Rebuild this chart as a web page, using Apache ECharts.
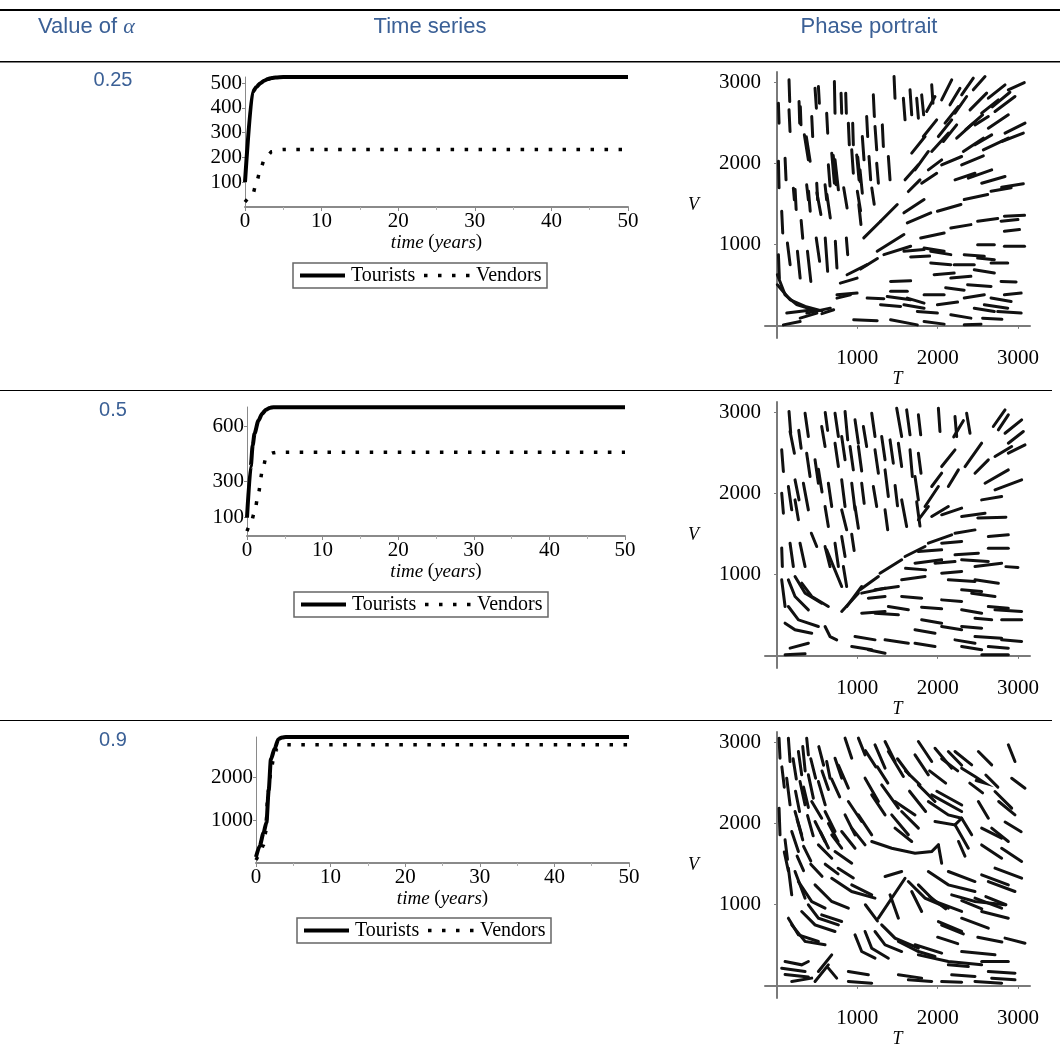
<!DOCTYPE html>
<html><head><meta charset="utf-8">
<script src="https://cdn.jsdelivr.net/npm/echarts@6/dist/echarts.min.js"></script>
<style>html,body{margin:0;padding:0;background:#fff}#c{width:1060px;height:1049px}</style>
</head><body><div id="c"></div>
<script>
// ---------- text ----------
const headerTexts = ['Value of ', 'α', 'Time series', 'Phase portrait'];
const alphaLabels = ['0.25', '0.5', '0.9'];
const seriesNames = ['Tourists', 'Vendors'];
const timeAxisWords = ['time', 'years'];
const phaseAxisNames = ['T', 'V'];

// ---------- time series (t in years) ----------
const t1 = [0, 1, 1.5, 2, 2.5, 3, 3.5, 4, 5, 50];
const tourists1 = [100, 465, 485, 500, 510, 517, 521, 523, 525, 525];
const tv1 = [0, 1, 1.5, 2, 2.5, 3, 3.5, 4, 5, 50];
const vendors1 = [20, 50, 100, 150, 190, 210, 224, 229, 232, 232];

const t2 = [0, 0.5, 0.75, 1, 1.5, 2, 2.5, 3, 3.5, 50];
const tourists2 = [100, 380, 496, 560, 630, 668, 690, 700, 704, 704];
const tv2 = [0, 0.5, 1, 1.5, 2, 2.5, 3, 3.5, 4, 50];
const vendors2 = [27, 70, 130, 230, 350, 425, 448, 455, 458, 458];

const t3 = [0, 0.5, 1, 1.4, 1.7, 2, 2.5, 3, 3.5, 4, 50];
const tourists3 = [140, 400, 700, 950, 1700, 2430, 2680, 2900, 2940, 2950, 2950];
const tv3 = [0, 0.5, 1, 1.3, 1.6, 2, 2.3, 2.8, 3.5, 4, 50];
const vendors3 = [70, 200, 420, 720, 1650, 2120, 2400, 2670, 2740, 2767, 2767];

const yMax = [525, 705, 2950];
const yTicks = [[100, 200, 300, 400, 500], [100, 300, 600], [1000, 2000]];
const phaseTicks = [1000, 2000, 3000];

// ---------- phase portraits: short trajectory strokes, [T, V] points ----------
const phase1 = [
 [[149,3033],[158,2766]],[[17,2745],[25,2499]],[[149,2663],[162,2396]],[[274,2766],[282,2499]],
 [[432,2581],[444,2334]],[[473,2930],[490,2684]],[[515,2951],[527,2745]],[[714,3013],[722,2622]],
 [[797,2869],[805,2622]],[[855,2869],[863,2622]],[[618,2622],[631,2376]],[[340,2355],[390,2047]],
 [[639,1986],[660,1723]],[[681,2129],[714,1759]],[[722,2047],[764,1677]],[[888,2499],[900,2232]],
 [[942,2499],[950,2232]],[[1116,2581],[1129,2334]],[[1199,2848],[1212,2581]],[[1311,2478],[1324,2211]],
 [[1457,3074],[1469,2807]],[[1573,2807],[1594,2540]],[[1656,2910],[1677,2602]],[[930,2170],[950,1882]],
 [[1062,2334],[1083,2047]],[[1220,2458],[1241,2170]],[[992,2108],[1021,1800]],[[1033,1923],[1062,1636]],
 [[1145,2088],[1166,1800]],[[1241,2006],[1262,1759]],[[1386,2088],[1407,1800]],[[100,2067],[112,1800]],
 [[203,1697],[216,1554]],[[369,1739],[390,1554]],[[494,1759],[506,1554]],[[598,1739],[618,1554]],
 [[1801,2848],[1826,2602]],[[1739,2807],[1760,2561]],[[1926,2972],[1942,2745]],[[17,2031],[25,1702]],
 [[1000,1660],[1040,1420]],[[1180,1700],[1210,1500]],[[365,2330],[412,2030]],[[700,2100],[735,1740]],
 [[1005,2080],[1035,1780]],[[290,2700],[298,2480]],
 // strokes fanning out to the upper right
 [[2050,2787],[2175,3033]],[[2154,2725],[2278,2930]],[[2299,2848],[2444,3054]],[[2444,2910],[2590,3074]],
 [[2216,2622],[2361,2828]],[[2092,2499],[2258,2704]],[[2009,2334],[2175,2540]],[[2403,2663],[2610,2869]],
 [[2631,2807],[2839,2972]],[[2880,2910],[3079,3000]],[[2548,2622],[2756,2787]],[[2714,2643],[2963,2828]],
 [[2631,2437],[2880,2602]],[[2839,2376],[3088,2499]],[[1677,2129],[1843,2334]],[[1718,1923],[1884,2150]],
 [[1822,2334],[1988,2540]],[[1926,2150],[2133,2376]],[[2071,2273],[2237,2478]],[[2237,2314],[2444,2499]],
 [[2320,2150],[2569,2314]],[[2465,2232],[2673,2355]],[[2569,2170],[2880,2314]],[[2797,2273],[3067,2376]],
 [[2050,1985],[2299,2088]],[[2299,1985],[2569,2096]],[[2382,1821],[2673,1923]],[[2548,1759],[2839,1841]],
 [[2797,1710],[3067,1751]],[[2216,1800],[2465,1882]],[[1594,1800],[1760,1985]],[[1635,1656],[1780,1800]],
 [[1884,1923],[2050,2047]],[[1801,1759],[1988,1882]],[[2465,2478],[2631,2581]],[[1863,2643],[1967,2828]],
 [[1289,1290],[1497,1496]],[[1080,1084],[1289,1290]],[[1580,1393],[1831,1557]],[[1247,919],[1580,1125]],
 [[1622,1269],[1914,1393]],[[1997,1413],[2290,1496]],[[2331,1557],[2623,1619]],[[2665,1660],[2915,1702]],
 [[872,630],[1122,754]],[[1330,878],[1664,981]],[[1789,1084],[2081,1145]],[[2164,1207],[2414,1248]],
 [[2498,1290],[2748,1323]],[[2831,1351],[3082,1364]],[[788,527],[997,589]],[[1040,700],[1250,830]],
 [[2350,2420],[2560,2600]],[[2680,2700],[2900,2880]],
 // near-vertical strokes, lower left
 [[58,1413],[71,1145]],[[17,878],[29,589]],[[129,1022],[163,754]],[[254,919],[288,589]],
 [[379,919],[421,548]],[[488,1084],[530,795]],[[600,1084],[630,672]],[[726,1042],[746,713]],
 [[863,1084],[880,878]],[[1018,1496],[1045,1250]],[[225,1681],[238,1434]],[[392,1660],[413,1413]],
 [[496,1640],[546,1372]],[[621,1619],[663,1331]],[[830,1702],[872,1454]],[[300,1300],[320,1080]],
 // nearly horizontal strokes, lower right
 [[746,383],[997,404]],[[1122,342],[1330,334]],[[1289,260],[1539,239]],[[1414,548],[1664,556]],
 [[1622,342],[1831,280]],[[1831,383],[2081,383]],[[1997,260],[2248,293]],[[2164,136],[2414,95]],
 [[955,74],[1247,62]],[[1414,74],[1747,12]],[[1831,54],[2081,21]],[[2331,342],[2581,383]],
 [[2456,218],[2706,177]],[[2665,342],[2915,301]],[[2748,177],[3040,157]],[[2831,383],[3040,404]],
 [[2164,589],[2414,610]],[[2456,692],[2706,651]],[[2790,548],[2977,540]],[[2331,878],[2581,857]],
 [[2498,836],[2706,816]],[[2206,754],[2456,754]],[[2665,775],[2873,775]],[[2831,981],[3082,981]],
 [[2831,1166],[3019,1187]],[[2790,1290],[3000,1310]],[[1831,960],[2081,919]],[[1580,919],[1831,940]],
 [[1914,775],[2164,754]],[[1414,425],[1622,425]],[[1747,177],[1997,157]],[[2331,12],[2540,21]],
 [[1372,363],[1664,321]],[[1580,260],[1831,218]],[[2581,260],[2873,218]],[[2373,507],[2665,486]],
 [[1956,630],[2206,651]],[[1914,919],[2164,878]],[[2498,1001],[2706,1001]],[[1664,850],[1900,860]],
 [[2560,95],[2800,80]],[[2100,470],[2330,440]],
 // curves near the origin
 [[4,630],[100,383],[246,260],[454,198]],[[4,507],[163,321],[350,239],[559,185]],
 [[121,157],[454,198]],[[371,157],[663,218]],[[79,12],[288,54]],[[288,95],[496,157]],
 [[559,150],[705,198]],[[746,342],[913,383]]
];

const phase2 = [
 [[149,3013],[170,2745]],[[162,2766],[216,2499]],[[349,2992],[390,2704]],[[556,2828],[598,2581]],
 [[722,2992],[764,2704]],[[847,3013],[880,2663]],[[971,2910],[1013,2622]],[[1075,2828],[1116,2581]],
 [[1179,2992],[1220,2704]],[[1490,3054],[1552,2704]],[[1614,3033],[1656,2725]],[[1760,2972],[1789,2725]],
 [[2009,3054],[2029,2766]],[[2216,2951],[2237,2704]],[[2361,2992],[2403,2745]],[[58,2540],[79,2273]],
 [[141,2088],[183,1800]],[[224,2170],[274,1923]],[[369,2499],[411,2211]],[[473,2417],[515,2129]],
 [[722,2622],[764,2334]],[[805,2704],[847,2417]],[[909,2581],[950,2293]],[[1013,2581],[1054,2280]],
 [[1220,2540],[1262,2252]],[[1303,2704],[1345,2417]],[[1407,2663],[1448,2376]],[[1511,2622],[1552,2334]],
 [[1656,2540],[1685,2211]],[[1760,2499],[1793,2252]],[[328,2129],[390,1800]],[[515,2300],[560,2020]],
 [[639,2129],[681,1841]],[[805,2170],[847,1841]],[[930,2129],[971,1800]],[[1054,2129],[1085,1880]],
 [[1199,2088],[1241,1841]],[[1345,2293],[1386,1965]],[[598,1841],[639,1595]],[[805,1800],[867,1554]],
 [[971,1841],[1013,1574]],[[1345,1800],[1378,1554]],[[224,1923],[266,1677]],[[58,2006],[79,1759]],
 [[1718,2211],[1760,1923]],[[1739,1900],[1780,1600]],[[1552,1923],[1614,1595]],[[1470,2100],[1500,1850]],
 [[600,3000],[630,2780]],[[270,2780],[300,2560]],
 // fanning to the upper right
 [[2693,2828],[2839,3033]],[[2756,2787],[2880,2972]],[[2839,2745],[3046,2910]],[[2880,2622],[3067,2766]],
 [[2714,2458],[2922,2581]],[[2880,2499],[3088,2602]],[[2341,2334],[2548,2622]],[[2465,2252],[2631,2417]],
 [[2590,2129],[2880,2293]],[[2714,2047],[3046,2170]],[[2548,1923],[2797,1965]],[[2050,2334],[2216,2540]],
 [[2133,2088],[2258,2293]],[[1926,2088],[2050,2252]],[[1843,1841],[2009,2088]],[[1760,1677],[1884,1841]],
 [[1926,1718],[2133,1841]],[[2050,1739],[2299,1821]],[[2299,1718],[2590,1759]],[[2500,1700],[2850,1710]],
 [[2200,2700],[2320,2900]],
 // left of the node
 [[58,1331],[66,1101]],[[162,1389],[203,1101]],[[286,1389],[349,1101]],[[427,1512],[494,1348]],
 [[598,1348],[660,1101]],[[722,1389],[764,1101]],[[805,1471],[847,1225]],[[618,1307],[805,855]],
 [[826,1101],[867,855]],[[930,1500],[960,1300]],
 [[58,937],[100,608]],[[141,937],[224,732],[390,567]],[[224,978],[349,773],[556,649]],
 [[307,896],[432,732],[639,608]],[[141,608],[266,444],[515,362]],[[100,403],[224,321],[432,279]],
 [[598,362],[660,238],[743,197]],[[162,95],[390,156]],[[100,12],[349,25]],
 // long arc from the node
 [[805,547],[1013,773]],[[1033,814],[1262,978]],[[1282,1019],[1552,1184]],[[1594,1225],[1843,1348]],
 [[1884,1389],[2175,1492]],[[2216,1512],[2465,1553]],[[867,608],[1054,855]],
 // nearly horizontal strokes
 [[1054,773],[1345,834]],[[1137,711],[1345,732]],[[1220,814],[1511,855]],[[1552,937],[1843,978]],
 [[1718,1143],[2050,1184]],[[1967,1143],[2216,1163]],[[1760,1286],[2050,1307]],[[2050,1389],[2299,1410]],
 [[2216,1245],[2507,1266]],[[2299,1184],[2631,1163]],[[2465,1101],[2797,1143]],[[2631,1471],[2880,1492]],
 [[2631,1328],[2880,1328]],[[2050,1019],[2299,1040]],[[2133,937],[2465,917]],[[2465,937],[2756,896]],
 [[2299,814],[2548,793]],[[2424,773],[2714,732]],[[2050,690],[2299,670]],[[1552,732],[1801,711]],
 [[2631,608],[2880,588]],[[2714,567],[3046,547]],[[2797,444],[3046,444]],[[2465,464],[2673,444]],
 [[2299,362],[2548,341]],[[2465,238],[2797,218]],[[2050,362],[2299,321]],[[1801,444],[2050,403]],
 [[1718,321],[1967,279]],[[1220,526],[1511,506]],[[1054,526],[1345,547]],[[1386,608],[1635,567]],
 [[971,238],[1220,197]],[[1345,197],[1635,156]],[[930,115],[1179,74]],[[1137,74],[1345,33]],
 [[1718,156],[1967,115]],[[2216,197],[2465,156]],[[2299,115],[2548,74]],[[2631,115],[2880,95]],
 [[2797,197],[3046,177]],[[2299,567],[2548,526]],[[2550,12],[2880,12]],[[1800,600],[2050,580]],
 [[2850,1100],[3000,1090]],[[1600,1080],[1850,1060]]
];

const phase3 = [
 // upper part
 [[25,3054],[37,2807]],[[25,2191],[37,1862]],[[141,3054],[162,2766]],[[266,2889],[307,2602]],
 [[320,2950],[350,2650]],[[369,3054],[390,2848]],[[120,2561],[162,2232]],[[286,2519],[349,2232]],
 [[390,2602],[452,2314]],[[515,2519],[600,2232]],[[618,2766],[660,2561]],[[722,2807],[805,2561]],
 [[765,2720],[888,2437]],[[847,3054],[930,2807]],[[1013,3054],[1096,2848]],[[1220,2972],[1345,2684]],
 [[1345,3013],[1469,2766]],[[1386,2889],[1573,2581]],[[1760,3013],[1926,2766]],[[1718,2848],[1884,2602]],
 [[1967,2930],[2175,2684]],[[2133,2889],[2299,2720]],[[2216,2889],[2424,2725]],
 [[2299,2684],[2465,2581],[2590,2499],[2480,2530]],[[2507,2889],[2673,2725]],[[2880,2972],[2963,2766]],
 [[2922,2560],[3088,2437]],[[2714,2396],[2922,2191]],[[2760,2273],[2963,2108]],[[2507,2273],[2631,2067]],
 [[2548,1944],[2797,1821]],[[2299,2067],[2424,1862]],[[1926,2355],[2299,2150]],[[1990,2400],[2300,2230]],
 [[1760,2478],[1967,2273]],[[1650,2400],[1850,2150]],
 [[1884,2273],[2133,2108],[2299,2067]],[[1967,2026],[2216,1985],[2299,2067]],
 [[1469,2273],[1718,2108]],[[1552,2150],[1760,1944]],[[1428,2108],[1635,1862]],[[1469,1944],[1677,1780]],
 [[1303,2478],[1511,2191]],[[1096,2561],[1262,2273]],[[1179,2355],[1345,2108]],[[888,2273],[1054,2026]],
 [[847,2108],[971,1862]],[[930,1944],[1096,1738]],[[1013,2108],[1179,1862]],
 [[1179,1780],[1428,1697],[1718,1636],[1926,1656],[2009,1738]],[[2009,1738],[2050,1512]],
 [[681,1862],[805,1697]],[[598,2150],[722,1903]],[[473,2026],[598,1780]],[[432,2273],[556,2067]],
 [[224,2150],[307,1862]],[[183,1903],[266,1656]],[[515,1738],[681,1574]],[[722,1656],[930,1512]],
 [[805,1903],[971,1697]],[[2216,1985],[2382,1697]],[[2260,1780],[2340,1600]],
 [[2548,1738],[2797,1574]],[[2673,1944],[2880,1780]],[[2797,1697],[3046,1533]],[[2840,2020],[3040,1900]],
 [[100,1800],[130,1560]],[[330,1720],[420,1540]],
 [[60,2700],[90,2450]],[[200,2800],[240,2550]],[[230,2400],[280,2150]],[[330,2450],[390,2200]],
 [[420,2800],[480,2560]],[[520,2950],[580,2720]],[[560,2650],[640,2420]],[[680,2550],[780,2330]],
 [[250,2050],[320,1800]],[[380,2100],[450,1850]],[[540,1900],[640,1700]],[[640,2000],[760,1780]],
 [[90,1650],[140,1420]],[[250,1600],[330,1420]],[[420,1500],[560,1350]],[[600,1500],[760,1380]],
 [[760,1450],[950,1330]],[[1100,2900],[1230,2700]],[[1250,2700],[1380,2500]],[[1500,2800],[1650,2600]],
 [[1600,2650],[1780,2480]],[[1900,2650],[2100,2500]],[[2050,2800],[2250,2650]],[[2400,2500],[2560,2380]],
 [[2600,2600],[2750,2450]],
 // lower part
 [[141,1451],[183,1122]],[[224,1410],[349,1081]],[[266,1286],[432,1040],[598,958]],
 [[473,1245],[681,1040],[888,958]],[[681,1327],[930,1163],[1220,1081]],[[930,1245],[1179,1122]],
 [[390,999],[515,834],[764,752]],[[556,875],[805,793]],[[141,834],[266,629],[515,547]],
 [[183,752],[349,547],[598,506]],[[307,917],[473,752],[722,670]],
 [[1345,1348],[1552,1410]],[[1594,1327],[1262,834]],[[1407,1122],[1511,834]],
 [[1635,1286],[1843,1081],[2133,958]],[[1677,1163],[1801,917]],[[1760,1245],[1967,1040],[2299,917]],
 [[1884,1410],[2133,1245],[2465,1163]],[[2133,1410],[2465,1286]],[[2175,1122],[2465,1040],[2839,999]],
 [[2548,1368],[2880,1245]],[[2631,1286],[2963,1163]],[[2714,1451],[3046,1327]],[[2465,1081],[2797,958]],
 [[2548,917],[2880,834]],[[2009,793],[2299,670]],[[2050,750],[2320,640]],[[2299,834],[2631,711]],
 [[2839,588],[3088,526]],
 [[971,629],[1054,423],[1220,341]],[[1096,670],[1179,464],[1386,341]],[[1220,670],[1345,506],[1552,423]],
 [[1303,752],[1469,588],[1760,464]],[[1511,547],[1760,423],[1967,362]],[[1718,506],[2050,403]],
 [[1760,382],[2133,300],[2548,259]],[[2299,423],[2714,382]],[[2548,300],[2880,300]],[[2133,259],[2382,238]],
 [[2631,177],[2963,156]],[[1100,1000],[1250,800]],[[1900,1100],[2100,950]],[[2300,1050],[2550,950]],
 [[2600,1100],[2850,1000]],[[2000,600],[2250,520]],[[2500,600],[2800,540]],
 [[100,300],[307,259],[390,300]],[[58,218],[349,177]],[[100,140],[390,110]],[[183,54],[432,95]],
 [[515,177],[681,382]],[[473,54],[639,259]],[[639,218],[743,95]],[[888,177],[1137,136]],
 [[888,54],[1179,33]],[[1511,136],[1801,95]],[[1635,74],[1926,54]],[[2175,136],[2465,115]],
 [[2465,54],[2797,33]],[[2673,95],[2963,74]],[[2050,54],[2299,45]]
];
const phaseData = [phase1, phase2, phase3];

// ---------- layout ----------
const tsGrids = [
  {left: 245, top: 77, width: 383, height: 130},
  {left: 247, top: 407, width: 378, height: 129},
  {left: 256, top: 737, width: 373, height: 126}
];
const phGrids = [
  {left: 765, top: 72, width: 265, height: 266},
  {left: 765, top: 402, width: 265, height: 266},
  {left: 765, top: 732, width: 265, height: 266}
];
const legendPos = [[293, 263], [294, 592], [297, 918]];
const rowLabelY = [80, 410, 740];
const tsData = [
  [t1, tourists1, tv1, vendors1],
  [t2, tourists2, tv2, vendors2],
  [t3, tourists3, tv3, vendors3]
];

const serif = '"Liberation Serif", "Times New Roman", serif';
const sans = '"Liberation Sans", Arial, sans-serif';
const blue = '#3B6096';
const axisGray = '#8a8a8a';
const plain = v => String(v);

const grids = [], xAxes = [], yAxes = [], series = [];
for (let r = 0; r < 3; r++) {
  grids.push(Object.assign({containLabel: false}, tsGrids[r]));
  xAxes.push({
    gridIndex: 2 * r, type: 'value', min: 0, max: 50, interval: 10,
    axisLine: {show: true, onZero: false, lineStyle: {color: axisGray, width: 2}},
    axisTick: {show: true, length: 4, lineStyle: {color: axisGray}},
    minorTick: {show: true, splitNumber: 2, length: 3, lineStyle: {color: '#b0b0b0'}},
    splitLine: {show: false},
    axisLabel: {fontFamily: serif, fontSize: 21, color: '#000', margin: 4, formatter: plain},
    name: '{i|' + timeAxisWords[0] + '} ({i|' + timeAxisWords[1] + '})',
    nameLocation: 'middle', nameGap: 26,
    nameTextStyle: {fontFamily: serif, fontSize: 19, color: '#000',
      rich: {i: {fontFamily: serif, fontSize: 19, fontStyle: 'italic', color: '#000'}}}
  });
  yAxes.push({
    gridIndex: 2 * r, type: 'value', min: 0, max: yMax[r],
    axisLine: {show: true, onZero: false, lineStyle: {color: axisGray, width: 1}},
    axisTick: {show: true, length: 3, customValues: yTicks[r], lineStyle: {color: axisGray}},
    splitLine: {show: false},
    axisLabel: {customValues: yTicks[r], fontFamily: serif, fontSize: 21, color: '#000', margin: 3, formatter: plain}
  });
  const d = tsData[r];
  series.push({
    name: seriesNames[0], type: 'line', xAxisIndex: 2 * r, yAxisIndex: 2 * r,
    data: d[0].map((t, i) => [t, d[1][i]]), showSymbol: false, symbol: 'none',
    smooth: 0.25, smoothMonotone: 'x',
    lineStyle: {color: '#000', width: 4}, silent: true, z: 3
  });
  series.push({
    name: seriesNames[1], type: 'line', xAxisIndex: 2 * r, yAxisIndex: 2 * r,
    data: d[2].map((t, i) => [t, d[3][i]]), showSymbol: false, symbol: 'none',
    smooth: 0.25, smoothMonotone: 'x',
    lineStyle: {color: '#000', width: 3.5, type: [3.5, 10.5], cap: 'butt'}, silent: true, z: 3
  });

  grids.push(Object.assign({containLabel: false}, phGrids[r]));
  xAxes.push({
    gridIndex: 2 * r + 1, type: 'value', min: -150, max: 3150,
    axisLine: {show: true, onZero: true, lineStyle: {color: '#7a7a7a', width: 2}},
    axisTick: {show: true, length: 3, customValues: phaseTicks, lineStyle: {color: '#7a7a7a'}},
    splitLine: {show: false},
    axisLabel: {customValues: phaseTicks, fontFamily: serif, fontSize: 21, color: '#000', margin: 10, formatter: plain},
    name: phaseAxisNames[0], nameLocation: 'middle', nameGap: 32,
    nameTextStyle: {fontFamily: serif, fontSize: 18, fontStyle: 'italic', color: '#000'}
  });
  yAxes.push({
    gridIndex: 2 * r + 1, type: 'value', min: -150, max: 3130,
    axisLine: {show: true, onZero: true, lineStyle: {color: '#7a7a7a', width: 2}},
    axisTick: {show: true, length: 3, customValues: phaseTicks, lineStyle: {color: '#7a7a7a'}},
    splitLine: {show: false},
    axisLabel: {customValues: phaseTicks, fontFamily: serif, fontSize: 21, color: '#000', margin: 4, formatter: plain},
    name: phaseAxisNames[1], nameLocation: 'middle', nameGap: 66, nameRotate: 0,
    nameTextStyle: {fontFamily: serif, fontSize: 18, fontStyle: 'italic', color: '#000'}
  });
  series.push({
    type: 'lines', coordinateSystem: 'cartesian2d', xAxisIndex: 2 * r + 1, yAxisIndex: 2 * r + 1,
    polyline: true, silent: true, z: 3,
    lineStyle: {color: '#111', width: 3, opacity: 1, cap: 'round'},
    data: phaseData[r].map(c => ({coords: c}))
  });
}

// ---------- decorations (table rules, headers, legends) ----------
const graphic = [
  {type: 'rect', shape: {x: 0, y: 9, width: 1060, height: 2}, style: {fill: '#000'}},
  {type: 'rect', shape: {x: 0, y: 61, width: 1060, height: 1.6}, style: {fill: '#000'}},
  {type: 'rect', shape: {x: 0, y: 390, width: 1052, height: 1}, style: {fill: '#000'}},
  {type: 'rect', shape: {x: 0, y: 720, width: 1052, height: 1}, style: {fill: '#000'}},
  {type: 'text', x: 38, y: 27, style: {text: headerTexts[0] + '{a|' + headerTexts[1] + '}', font: '22px ' + sans, fill: blue,
    verticalAlign: 'middle', rich: {a: {fontFamily: serif, fontStyle: 'italic', fontSize: 22, fill: blue}}}},
  {type: 'text', x: 430, y: 27, style: {text: headerTexts[2], font: '22px ' + sans, fill: blue, align: 'center', verticalAlign: 'middle'}},
  {type: 'text', x: 869, y: 27, style: {text: headerTexts[3], font: '22px ' + sans, fill: blue, align: 'center', verticalAlign: 'middle'}}
];
for (let r = 0; r < 3; r++) {
  graphic.push({type: 'text', x: 113, y: rowLabelY[r], style: {text: alphaLabels[r], font: '20px ' + sans, fill: blue, align: 'center', verticalAlign: 'middle'}});
  const [x0, y0] = legendPos[r];
  graphic.push(
    {type: 'rect', shape: {x: x0, y: y0, width: 254, height: 25}, style: {fill: '#fff', stroke: '#666', lineWidth: 1.5}},
    {type: 'line', shape: {x1: x0 + 7, y1: y0 + 12.5, x2: x0 + 52, y2: y0 + 12.5}, style: {stroke: '#000', lineWidth: 4}},
    {type: 'text', x: x0 + 58, y: y0 + 13, style: {text: seriesNames[0], font: '20px ' + serif, fill: '#000', verticalAlign: 'middle'}},
    {type: 'line', shape: {x1: x0 + 131, y1: y0 + 12.5, x2: x0 + 177, y2: y0 + 12.5}, style: {stroke: '#000', lineWidth: 3.5, lineDash: [3.5, 10.5]}},
    {type: 'text', x: x0 + 183, y: y0 + 13, style: {text: seriesNames[1], font: '20px ' + serif, fill: '#000', verticalAlign: 'middle'}}
  );
}

const chart = echarts.init(document.getElementById('c'), null, {renderer: 'canvas'});
chart.setOption({
  animation: false,
  backgroundColor: '#fff',
  grid: grids, xAxis: xAxes, yAxis: yAxes, series: series, graphic: graphic
});
</script></body></html>
